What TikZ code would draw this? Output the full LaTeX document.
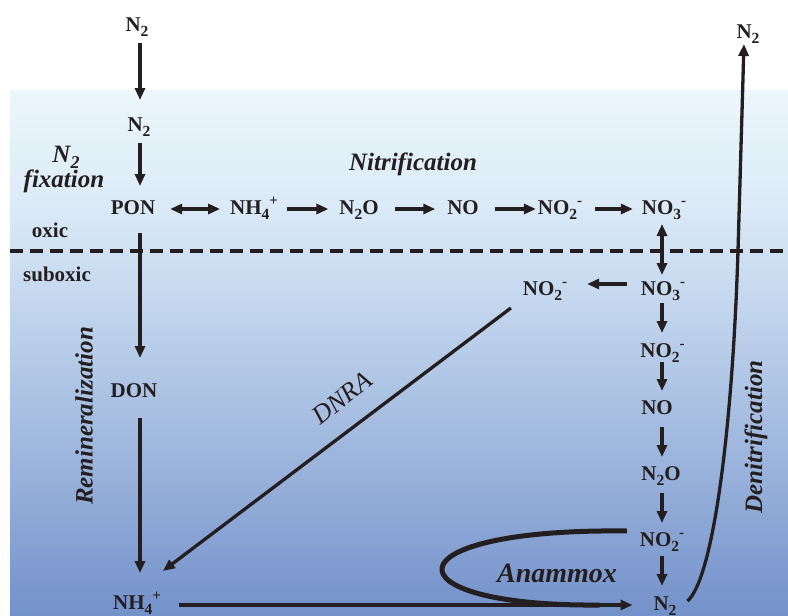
\documentclass[tikz,border=0pt]{standalone}
\usepackage{fontspec}
\setmainfont{Liberation Serif}
\usetikzlibrary{arrows.meta,calc}
\definecolor{ink}{HTML}{231F20}
\definecolor{bgA}{HTML}{EBF7FB}
\definecolor{bgB}{HTML}{DCEBF7}
\definecolor{bgC}{HTML}{C4D7EE}
\definecolor{bgD}{HTML}{97B0DA}
\definecolor{bgE}{HTML}{7391CA}
\newcommand\chsub[1]{\raisebox{-0.25em}{\fontsize{15.5}{15.5}\selectfont #1}}
\newcommand\chsup[1]{\raisebox{0.42em}{\fontsize{15}{15}\selectfont #1}}
\newcommand\lsub[1]{\raisebox{-0.25em}{\fontsize{18}{18}\selectfont #1}}
\begin{document}
\begin{tikzpicture}[x=1pt,y=-1pt,
  chem/.style={font=\fontsize{21}{25}\selectfont\bfseries, text=ink, inner sep=0pt, outer sep=0pt, text height=15pt, text depth=5pt},
  lab/.style={font=\fontsize{25}{28}\selectfont\bfseries\itshape, text=ink, inner sep=0pt},
  zone/.style={font=\fontsize{21}{25}\selectfont\bfseries, text=ink, inner sep=0pt, anchor=base},
  arr/.style={draw=ink, line width=3.3pt, -{Triangle[length=12pt,width=10pt]}},
  darr/.style={draw=ink, line width=3.3pt, {Triangle[length=12pt,width=10pt]}-{Triangle[length=12pt,width=10pt]}},
]
\useasboundingbox (0,0) rectangle (788,616);
% water column background
\shade[top color=bgA,bottom color=bgB] (10,90) rectangle (788,200.6);
\shade[top color=bgB,bottom color=bgC] (10,200) rectangle (788,300.6);
\shade[top color=bgC,bottom color=bgD] (10,300) rectangle (788,480.6);
\shade[top color=bgD,bottom color=bgE] (10,480) rectangle (788,616);
% oxic / suboxic boundary
\draw[ink, line width=4.5pt, dash pattern=on 13pt off 7pt] (10,251) -- (788,251);

\coordinate (colx) at (140,0);
\coordinate (vcol) at (662,0);

% species
\node[chem] (n2top) at (137,26) {N\chsub{2}};
\node[chem] (n2a) at (139,126) {N\chsub{2}};
\node[chem] (pon) at (133,209) {PON};
\node[chem] (nh4a) at (254,209) {NH\chsub{4}\chsup{+}};
\node[chem] (n2oa) at (359,209) {N\chsub{2}O};
\node[chem] (noa) at (463,209) {NO};
\node[chem] (no2a) at (560,209) {NO\chsub{2}\chsup{-}};
\node[chem] (no3a) at (664,209) {NO\chsub{3}\chsup{-}};
\node[chem] (no3b) at (663,290) {NO\chsub{3}\chsup{-}};
\node[chem] (no2b) at (545,290) {NO\chsub{2}\chsup{-}};
\node[chem] (no2c) at (662.5,352) {NO\chsub{2}\chsup{-}};
\node[chem] (nob) at (657,409) {NO};
\node[chem] (n2ob) at (661,475) {N\chsub{2}O};
\node[chem] (no2d) at (662,541) {NO\chsub{2}\chsup{-}};
\node[chem] (n2b) at (665,605) {N\chsub{2}};
\node[chem] (don) at (134,392) {DON};
\node[chem] (nh4b) at (137,604) {NH\chsub{4}\chsup{+}};
\node[chem] (n2r) at (748,33) {N\chsub{2}};

% labels
\node[lab, anchor=base] (lfixN) at (66,162) {N\lsub{2}};
\node[lab, anchor=base] (lfix) at (64,187) {fixation};
\node[lab, anchor=base] (lnit) at (413,170) {Nitrification};
\node[zone] (loxic) at (50,237) {oxic};
\node[zone] (lsub) at (57,281) {suboxic};
\node[lab, anchor=base, font=\fontsize{28}{30}\selectfont\bfseries\itshape] (lana) at (557,582) {Anammox};
\node[lab, font=\fontsize{26}{28}\selectfont\itshape, rotate=38] (ldnra) at (342,398) {DNRA};
\node[lab, rotate=90] (lrem) at (84,416) {Remineralization};
\node[lab, rotate=90] (lden) at (756,437) {Denitrification};

% N2 fixation and remineralization column
\draw[arr, shorten <=7pt, shorten >=16pt] (n2top.south -| colx) -- (n2a.north -| colx);
\draw[arr, shorten <=7pt, shorten >=13pt] (n2a.south -| colx) -- (pon.north -| colx);
\draw[arr, shorten <=14pt, shorten >=24pt] (pon.south -| colx) -- (don.north -| colx);
\draw[arr, shorten <=16pt, shorten >=21pt] (don.south -| colx) -- (nh4b.north -| colx);

% nitrification row
\draw[darr, shorten <=15pt, shorten >=10pt] (pon) -- (nh4a);
\draw[arr, shorten <=9pt, shorten >=11pt] (nh4a) -- (n2oa);
\draw[arr, shorten <=16pt, shorten >=12pt] (n2oa) -- (noa);
\draw[arr, shorten <=16pt, shorten >=2pt] (noa) -- (no2a);
\draw[arr, shorten <=13pt, shorten >=9pt] (no2a) -- (no3a);

% denitrification chain
\draw[darr, shorten <=5pt, shorten >=5pt] (no3a.south -| vcol) -- (no3b.north -| vcol);
\draw[arr, shorten <=14pt, shorten >=20pt] ([yshift=6pt]no3b.west) -- ([yshift=6pt]no2b.east);
\draw[arr, shorten <=3pt, shorten >=9pt] (no3b.south -| vcol) -- (no2c.north -| vcol);
\draw[arr, shorten <=0pt, shorten >=8pt] (no2c.south -| vcol) -- (nob.north -| vcol);
\draw[arr, shorten <=8pt, shorten >=8pt] (nob.south -| vcol) -- (n2ob.north -| vcol);
\draw[arr, shorten <=8pt, shorten >=8pt] (n2ob.south -| vcol) -- (no2d.north -| vcol);
\draw[arr, shorten <=5pt, shorten >=9pt] (no2d.south -| vcol) -- (n2b.north -| vcol);

% DNRA
\coordinate (dS) at ($(no2b.south west)+(-12,8)$);
\coordinate (dE) at ($(nh4b.north east)+(2,-23)$);
\draw[arr] (dS) -- (dE);

% anammox
\draw[arr, shorten <=18pt, shorten >=21pt] (nh4b.east |- n2b) -- (n2b);
\draw[ink, line width=5pt] ($(no2d.west)+(-13,-10)$) .. controls (385,528) and (385,607) .. ($(n2b.west)+(-54,0)$);

% N2 escape
\draw[arr, shorten >=1pt] ($(n2b.east)+(11,-4)$) .. controls (712,580) and (732,440) .. (738,251) -- ($(n2r.south)+(-4,0)$);
\end{tikzpicture}
\end{document}
